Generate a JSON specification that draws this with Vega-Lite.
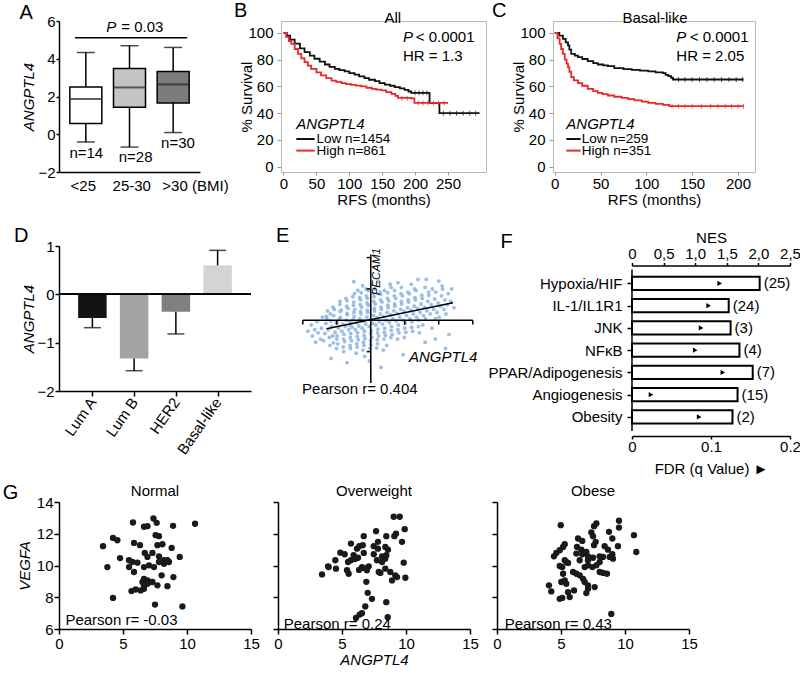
{
"$schema": "https://vega.github.io/schema/vega-lite/v6.json",
"background": "white",
"padding": {"left": 2, "top": 0, "right": 2, "bottom": 2},
"config": {
  "font": "Liberation Sans",
  "view": {"stroke": null},
  "axis": {"labelFont": "Liberation Sans", "titleFont": "Liberation Sans", "labelFontSize": 15, "titleFontSize": 15, "titleFontWeight": "normal", "labelColor": "black", "titleColor": "black", "domainColor": "black", "tickColor": "black", "domainWidth": 1.5, "tickWidth": 1.5, "tickSize": 5, "grid": false, "labelPadding": 2, "titlePadding": 4, "labelOverlap": false},
  "title": {"font": "Liberation Sans", "fontSize": 15, "fontWeight": "normal", "color": "black"},
  "text": {"font": "Liberation Sans", "fontSize": 15, "color": "black"}
},
"datasets": {
  "kmB": [
    {"g":"Low","t":0,"s":100},{"g":"Low","t":5,"s":98},{"g":"Low","t":10,"s":95},{"g":"Low","t":17,"s":92},{"g":"Low","t":25,"s":88.5},{"g":"Low","t":32,"s":85.7},{"g":"Low","t":40,"s":83},{"g":"Low","t":47,"s":80.7},{"g":"Low","t":55,"s":78.5},{"g":"Low","t":63,"s":76.4},{"g":"Low","t":70,"s":74.7},{"g":"Low","t":78,"s":73.2},{"g":"Low","t":85,"s":72.2},{"g":"Low","t":93,"s":71.2},{"g":"Low","t":100,"s":70},{"g":"Low","t":108,"s":68.9},{"g":"Low","t":115,"s":67.5},{"g":"Low","t":123,"s":66.2},{"g":"Low","t":130,"s":65},{"g":"Low","t":139,"s":64},{"g":"Low","t":146,"s":62.5},{"g":"Low","t":154,"s":61.4},{"g":"Low","t":162,"s":60.5},{"g":"Low","t":169,"s":59.5},{"g":"Low","t":177,"s":58.5},{"g":"Low","t":184,"s":57.5},{"g":"Low","t":190,"s":56.2},{"g":"Low","t":194,"s":55.2},{"g":"Low","t":222,"s":47.7},{"g":"Low","t":237,"s":40},{"g":"Low","t":298,"s":40},
    {"g":"High","t":0,"s":100},{"g":"High","t":4,"s":97},{"g":"High","t":8,"s":94},{"g":"High","t":12,"s":91.9},{"g":"High","t":17,"s":88},{"g":"High","t":22,"s":84.4},{"g":"High","t":27,"s":81},{"g":"High","t":32,"s":78.2},{"g":"High","t":37,"s":75.5},{"g":"High","t":42,"s":73.2},{"g":"High","t":50,"s":70.5},{"g":"High","t":57,"s":68.2},{"g":"High","t":65,"s":66.2},{"g":"High","t":73,"s":64.4},{"g":"High","t":80,"s":63.4},{"g":"High","t":88,"s":62.5},{"g":"High","t":95,"s":61.8},{"g":"High","t":103,"s":61.2},{"g":"High","t":110,"s":60.6},{"g":"High","t":118,"s":60},{"g":"High","t":126,"s":59},{"g":"High","t":134,"s":58.2},{"g":"High","t":141,"s":57.6},{"g":"High","t":149,"s":57},{"g":"High","t":156,"s":55.8},{"g":"High","t":164,"s":54.5},{"g":"High","t":170,"s":53},{"g":"High","t":174,"s":51.5},{"g":"High","t":194,"s":51},{"g":"High","t":199,"s":47.7},{"g":"High","t":250,"s":47.7}
  ],
  "cenB": [
    {"g":"Low","t":200,"s":55.2},{"g":"Low","t":206,"s":55.2},{"g":"Low","t":212,"s":55.2},{"g":"Low","t":218,"s":55.2},{"g":"Low","t":243,"s":40},{"g":"Low","t":253,"s":40},{"g":"Low","t":263,"s":40},{"g":"Low","t":273,"s":40},{"g":"Low","t":283,"s":40},{"g":"Low","t":292,"s":40},
    {"g":"High","t":180,"s":51},{"g":"High","t":188,"s":51},{"g":"High","t":205,"s":47.7},{"g":"High","t":212,"s":47.7},{"g":"High","t":220,"s":47.7},{"g":"High","t":228,"s":47.7},{"g":"High","t":236,"s":47.7},{"g":"High","t":244,"s":47.7}
  ],
  "kmC": [
    {"g":"Low","t":0,"s":100},{"g":"Low","t":5,"s":98},{"g":"Low","t":9,"s":95.6},{"g":"Low","t":12,"s":93},{"g":"Low","t":14.5,"s":90.7},{"g":"Low","t":16,"s":87.5},{"g":"Low","t":18,"s":84.4},{"g":"Low","t":22,"s":83},{"g":"Low","t":25.4,"s":81.9},{"g":"Low","t":30,"s":80.5},{"g":"Low","t":36,"s":78.9},{"g":"Low","t":42,"s":77.5},{"g":"Low","t":47,"s":76.4},{"g":"Low","t":53,"s":75.8},{"g":"Low","t":58,"s":75.2},{"g":"Low","t":65,"s":73.7},{"g":"Low","t":75,"s":73},{"g":"Low","t":84,"s":72.4},{"g":"Low","t":93,"s":71.8},{"g":"Low","t":102,"s":71.2},{"g":"Low","t":110,"s":70.5},{"g":"Low","t":118,"s":69.9},{"g":"Low","t":121,"s":68.7},{"g":"Low","t":124,"s":67.7},{"g":"Low","t":127,"s":66.5},{"g":"Low","t":129,"s":65.2},{"g":"Low","t":206,"s":65.2},
    {"g":"High","t":0,"s":100},{"g":"High","t":3,"s":96},{"g":"High","t":5.4,"s":91.9},{"g":"High","t":7,"s":88},{"g":"High","t":9,"s":84.4},{"g":"High","t":11,"s":80},{"g":"High","t":13,"s":77},{"g":"High","t":14.5,"s":74.5},{"g":"High","t":16,"s":71},{"g":"High","t":18,"s":66.9},{"g":"High","t":21,"s":64.5},{"g":"High","t":25.4,"s":62.5},{"g":"High","t":30,"s":60.5},{"g":"High","t":36,"s":58.2},{"g":"High","t":42,"s":56.5},{"g":"High","t":47,"s":55.2},{"g":"High","t":52,"s":54.2},{"g":"High","t":58,"s":53.2},{"g":"High","t":65,"s":52.3},{"g":"High","t":73,"s":51.5},{"g":"High","t":80,"s":50.5},{"g":"High","t":87,"s":49.5},{"g":"High","t":95,"s":48.6},{"g":"High","t":102,"s":47.7},{"g":"High","t":110,"s":47},{"g":"High","t":118,"s":46.2},{"g":"High","t":125,"s":45.2},{"g":"High","t":206,"s":45.2}
  ],
  "cenC": [
    {"g":"Low","t":135,"s":65.2},{"g":"Low","t":142,"s":65.2},{"g":"Low","t":150,"s":65.2},{"g":"Low","t":158,"s":65.2},{"g":"Low","t":166,"s":65.2},{"g":"Low","t":174,"s":65.2},{"g":"Low","t":182,"s":65.2},{"g":"Low","t":190,"s":65.2},{"g":"Low","t":198,"s":65.2},{"g":"Low","t":205,"s":65.2},
    {"g":"High","t":128,"s":45.2},{"g":"High","t":135,"s":45.2},{"g":"High","t":142,"s":45.2},{"g":"High","t":150,"s":45.2},{"g":"High","t":160,"s":45.2},{"g":"High","t":170,"s":45.2},{"g":"High","t":178,"s":45.2},{"g":"High","t":186,"s":45.2},{"g":"High","t":193,"s":45.2},{"g":"High","t":200,"s":45.2},{"g":"High","t":206,"s":45.2}
  ],
  "cloud": [
    {"x":-1.35,"y":-0.42},{"x":-1.32,"y":-0.1},{"x":-1.39,"y":-0.65},{"x":-1.3,"y":0.12},
    {"x":-1.25,"y":-0.3},{"x":-1.22,"y":-0.55},{"x":-1.29,"y":0.05},{"x":-1.2,"y":-0.8},{"x":-1.27,"y":0.3},
    {"x":-1.15,"y":-0.2},{"x":-1.12,"y":-0.5},{"x":-1.19,"y":0.2},{"x":-1.1,"y":-0.72},{"x":-1.17,"y":-0.02},{"x":-1.11,"y":0.42},
    {"x":-1.05,"y":-0.38},{"x":-1.02,"y":-0.08},{"x":-1.09,"y":0.15},{"x":-1.0,"y":-0.6},{"x":-1.07,"y":0.35},{"x":-1.01,"y":-0.9},
    {"x":-0.95,"y":-0.25},{"x":-0.92,"y":0.05},{"x":-0.99,"y":-0.5},{"x":-0.9,"y":0.28},{"x":-0.97,"y":-0.75},{"x":-0.91,"y":0.5},{"x":-1.0,"y":-0.1},
    {"x":-0.85,"y":-0.35},{"x":-0.82,"y":-0.12},{"x":-0.89,"y":0.1},{"x":-0.8,"y":-0.6},{"x":-0.87,"y":0.32},{"x":-0.81,"y":-0.85},{"x":-0.9,"y":0.6},
    {"x":-0.75,"y":-0.2},{"x":-0.72,"y":0.0},{"x":-0.79,"y":-0.45},{"x":-0.7,"y":0.22},{"x":-0.77,"y":-0.68},{"x":-0.71,"y":0.45},{"x":-0.8,"y":-1.0},{"x":-0.73,"y":0.7},
    {"x":-0.65,"y":-0.3},{"x":-0.62,"y":-0.05},{"x":-0.69,"y":0.18},{"x":-0.6,"y":-0.55},{"x":-0.67,"y":0.38},{"x":-0.61,"y":-0.8},{"x":-0.7,"y":0.62},{"x":-0.63,"y":-0.15},
    {"x":-0.55,"y":-0.22},{"x":-0.52,"y":0.02},{"x":-0.59,"y":-0.42},{"x":-0.5,"y":0.25},{"x":-0.57,"y":-0.65},{"x":-0.51,"y":0.48},{"x":-0.6,"y":-0.9},{"x":-0.53,"y":0.75},{"x":-0.58,"y":-0.1},
    {"x":-0.45,"y":-0.3},{"x":-0.42,"y":-0.08},{"x":-0.49,"y":0.12},{"x":-0.4,"y":-0.52},{"x":-0.47,"y":0.35},{"x":-0.41,"y":-0.75},{"x":-0.5,"y":0.58},{"x":-0.43,"y":-1.05},{"x":-0.48,"y":0.85},
    {"x":-0.35,"y":-0.18},{"x":-0.32,"y":0.05},{"x":-0.39,"y":-0.4},{"x":-0.3,"y":0.28},{"x":-0.37,"y":-0.62},{"x":-0.31,"y":0.5},{"x":-0.4,"y":-0.85},{"x":-0.33,"y":0.72},{"x":-0.38,"y":0.95},
    {"x":-0.25,"y":-0.25},{"x":-0.22,"y":-0.02},{"x":-0.29,"y":0.2},{"x":-0.2,"y":-0.48},{"x":-0.27,"y":0.42},{"x":-0.21,"y":-0.7},{"x":-0.3,"y":0.65},{"x":-0.23,"y":-0.95},{"x":-0.28,"y":0.88},{"x":-0.24,"y":1.1},
    {"x":-0.15,"y":-0.12},{"x":-0.12,"y":0.1},{"x":-0.19,"y":-0.35},{"x":-0.1,"y":0.32},{"x":-0.17,"y":-0.58},{"x":-0.11,"y":0.55},{"x":-0.2,"y":-0.8},{"x":-0.13,"y":0.78},{"x":-0.18,"y":-1.15},{"x":-0.14,"y":1.0},
    {"x":-0.05,"y":-0.2},{"x":-0.02,"y":0.02},{"x":-0.09,"y":0.25},{"x":0.0,"y":-0.42},{"x":-0.07,"y":0.48},{"x":-0.01,"y":-0.65},{"x":-0.1,"y":0.7},{"x":-0.03,"y":-0.9},{"x":-0.08,"y":0.95},{"x":-0.04,"y":-1.3},
    {"x":0.05,"y":-0.1},{"x":0.08,"y":0.15},{"x":0.01,"y":-0.32},{"x":0.1,"y":0.38},{"x":0.03,"y":-0.55},{"x":0.09,"y":0.6},{"x":0.0,"y":-0.78},{"x":0.07,"y":0.85},{"x":0.02,"y":1.15},
    {"x":0.15,"y":-0.15},{"x":0.18,"y":0.08},{"x":0.11,"y":0.3},{"x":0.2,"y":-0.4},{"x":0.13,"y":0.52},{"x":0.19,"y":-0.62},{"x":0.1,"y":0.75},{"x":0.17,"y":-0.88},{"x":0.12,"y":1.0},
    {"x":0.25,"y":-0.05},{"x":0.28,"y":0.2},{"x":0.21,"y":-0.28},{"x":0.3,"y":0.42},{"x":0.23,"y":-0.5},{"x":0.29,"y":0.65},{"x":0.2,"y":-0.75},{"x":0.27,"y":0.9},{"x":0.22,"y":1.25},
    {"x":0.35,"y":-0.12},{"x":0.38,"y":0.12},{"x":0.31,"y":0.35},{"x":0.4,"y":-0.38},{"x":0.33,"y":0.58},{"x":0.39,"y":-0.6},{"x":0.3,"y":0.82},{"x":0.37,"y":-0.95},
    {"x":0.45,"y":0.0},{"x":0.48,"y":0.25},{"x":0.41,"y":-0.25},{"x":0.5,"y":0.48},{"x":0.43,"y":-0.48},{"x":0.49,"y":0.7},{"x":0.4,"y":0.95},{"x":0.47,"y":-0.8},
    {"x":0.55,"y":-0.08},{"x":0.58,"y":0.18},{"x":0.51,"y":0.4},{"x":0.6,"y":-0.32},{"x":0.53,"y":0.62},{"x":0.59,"y":-0.55},{"x":0.5,"y":0.88},{"x":0.57,"y":1.15},
    {"x":0.65,"y":0.05},{"x":0.68,"y":0.3},{"x":0.61,"y":-0.2},{"x":0.7,"y":0.52},{"x":0.63,"y":-0.45},{"x":0.69,"y":0.78},{"x":0.6,"y":1.05},
    {"x":0.75,"y":-0.02},{"x":0.78,"y":0.22},{"x":0.71,"y":0.45},{"x":0.8,"y":-0.3},{"x":0.73,"y":0.7},{"x":0.79,"y":-0.6},{"x":0.7,"y":0.95},
    {"x":0.85,"y":0.1},{"x":0.88,"y":0.35},{"x":0.81,"y":-0.15},{"x":0.9,"y":0.6},{"x":0.83,"y":-0.4},{"x":0.89,"y":0.85},{"x":0.8,"y":1.2},
    {"x":0.95,"y":0.0},{"x":0.98,"y":0.28},{"x":0.91,"y":0.52},{"x":1.0,"y":-0.25},{"x":0.93,"y":0.78},{"x":0.99,"y":-0.55},{"x":0.9,"y":1.05},
    {"x":1.05,"y":0.15},{"x":1.08,"y":0.4},{"x":1.01,"y":-0.1},{"x":1.1,"y":0.65},{"x":1.03,"y":-0.38},{"x":1.09,"y":0.9},
    {"x":1.15,"y":0.05},{"x":1.18,"y":0.32},{"x":1.11,"y":0.58},{"x":1.2,"y":-0.22},{"x":1.13,"y":0.85},{"x":1.19,"y":1.15},
    {"x":1.25,"y":0.2},{"x":1.28,"y":0.45},{"x":1.21,"y":-0.05},{"x":1.3,"y":0.72},{"x":1.23,"y":-0.35},{"x":1.29,"y":1.0},
    {"x":1.35,"y":0.1},{"x":1.38,"y":0.38},{"x":1.31,"y":0.65},{"x":1.4,"y":-0.2},{"x":1.33,"y":0.95},{"x":1.39,"y":1.3},
    {"x":1.45,"y":0.25},{"x":1.48,"y":0.52},{"x":1.41,"y":0.0},{"x":1.5,"y":0.8},{"x":1.43,"y":-0.4},
    {"x":1.55,"y":0.15},{"x":1.58,"y":0.42},{"x":1.51,"y":0.7},{"x":1.6,"y":1.05},{"x":1.53,"y":-0.15},
    {"x":1.65,"y":0.3},{"x":1.68,"y":0.6},{"x":1.61,"y":0.05},{"x":1.7,"y":0.9},{"x":1.63,"y":1.3},
    {"x":1.75,"y":0.2},{"x":1.78,"y":0.5},{"x":1.71,"y":0.8},{"x":1.8,"y":-0.25},
    {"x":1.85,"y":0.35},{"x":1.88,"y":0.68},{"x":1.81,"y":1.0},{"x":1.9,"y":0.05},
    {"x":1.95,"y":0.25},{"x":1.98,"y":0.55},{"x":1.91,"y":0.9},{"x":2.0,"y":1.25},
    {"x":2.05,"y":0.45},{"x":2.08,"y":0.78},{"x":2.01,"y":0.1},{"x":2.1,"y":1.1},
    {"x":2.15,"y":0.35},{"x":2.18,"y":0.65},{"x":2.11,"y":1.0},
    {"x":2.25,"y":0.5},{"x":2.28,"y":0.85},{"x":2.21,"y":0.2},
    {"x":2.35,"y":0.6},{"x":2.38,"y":1.0},{"x":2.45,"y":0.4},
    {"x":-1.45,"y":-0.25},{"x":-1.48,"y":-0.6},{"x":-1.42,"y":0.1},{"x":-1.55,"y":-0.4},{"x":-1.58,"y":-0.05},{"x":-1.65,"y":-0.3},{"x":-1.62,"y":-0.7},{"x":-1.75,"y":-0.15},{"x":-1.72,"y":-0.5},{"x":-1.85,"y":-0.35},
    {"x":-0.5,"y":1.23},{"x":-1.17,"y":-1.22},{"x":0.95,"y":-1.1},{"x":1.6,"y":-0.7},{"x":2.3,"y":-0.45},{"x":0.3,"y":-1.5},{"x":-0.7,"y":-1.35},{"x":1.9,"y":-0.6},{"x":2.2,"y":-0.9}
  ],
  "gN": [
    {"x":7.38,"y":12.96},{"x":7.63,"y":12.69},{"x":5.78,"y":12.71},{"x":6.64,"y":12.44},{"x":6.91,"y":12.48},{"x":8.91,"y":12.5},{"x":10.63,"y":12.63},{"x":4.22,"y":11.74},{"x":4.56,"y":11.59},{"x":7.55,"y":11.91},{"x":7.81,"y":11.85},{"x":5.86,"y":11.42},{"x":6.33,"y":11.28},{"x":7.69,"y":11.28},{"x":8.08,"y":11.34},{"x":8.8,"y":11.11},{"x":3.44,"y":11.22},{"x":7.3,"y":10.79},{"x":6.7,"y":10.79},{"x":4.77,"y":10.47},{"x":5.47,"y":10.33},{"x":5.73,"y":10.22},{"x":6.13,"y":10.18},{"x":6.91,"y":10.54},{"x":7.81,"y":10.58},{"x":8.2,"y":10.33},{"x":8.47,"y":10.33},{"x":9.43,"y":10.54},{"x":7.81,"y":10.22},{"x":3.78,"y":9.9},{"x":5.47,"y":9.9},{"x":5.86,"y":9.59},{"x":6.64,"y":9.9},{"x":7.03,"y":10.01},{"x":7.42,"y":9.9},{"x":8.2,"y":10.11},{"x":8.59,"y":10.22},{"x":8.94,"y":9.27},{"x":8.02,"y":9.38},{"x":6.64,"y":9.16},{"x":6.91,"y":9.06},{"x":6.52,"y":8.96},{"x":7.03,"y":8.96},{"x":6.64,"y":8.75},{"x":6.91,"y":8.85},{"x":7.3,"y":8.96},{"x":8.47,"y":8.7},{"x":7.69,"y":8.75},{"x":6.64,"y":8.53},{"x":6.38,"y":8.43},{"x":5.66,"y":8.39},{"x":5.99,"y":8.49},{"x":4.22,"y":7.96},{"x":7.5,"y":7.54},{"x":9.64,"y":7.42}
  ],
  "gO": [
    {"x":9.04,"y":13.07},{"x":9.51,"y":13.07},{"x":9.9,"y":12.29},{"x":9.22,"y":12.01},{"x":9.09,"y":11.85},{"x":7.66,"y":12.16},{"x":8.46,"y":11.85},{"x":6.7,"y":11.85},{"x":9.69,"y":11.49},{"x":5.7,"y":11.38},{"x":6.35,"y":11.22},{"x":6.62,"y":11.28},{"x":6.17,"y":11.06},{"x":7.81,"y":11.49},{"x":7.48,"y":11.22},{"x":7.81,"y":11.06},{"x":8.38,"y":11.17},{"x":8.59,"y":11.0},{"x":4.87,"y":10.81},{"x":5.21,"y":10.71},{"x":6.7,"y":10.79},{"x":5.91,"y":10.65},{"x":6.25,"y":10.49},{"x":5.7,"y":10.33},{"x":5.47,"y":10.22},{"x":7.48,"y":10.71},{"x":8.13,"y":10.58},{"x":8.46,"y":10.65},{"x":9.82,"y":10.18},{"x":4.48,"y":10.33},{"x":3.91,"y":9.95},{"x":3.44,"y":9.44},{"x":3.96,"y":9.9},{"x":4.53,"y":9.8},{"x":5.39,"y":9.7},{"x":5.52,"y":9.48},{"x":6.02,"y":10.41},{"x":6.56,"y":9.9},{"x":6.33,"y":9.72},{"x":6.72,"y":9.84},{"x":7.09,"y":9.95},{"x":6.95,"y":9.7},{"x":6.9,"y":8.97},{"x":7.01,"y":8.28},{"x":7.34,"y":7.9},{"x":6.82,"y":7.42},{"x":6.56,"y":6.99},{"x":6.38,"y":6.91},{"x":6.09,"y":6.7},{"x":7.73,"y":10.33},{"x":8.13,"y":10.22},{"x":8.38,"y":10.43},{"x":7.87,"y":9.59},{"x":8.0,"y":9.53},{"x":8.38,"y":9.8},{"x":8.77,"y":9.59},{"x":8.91,"y":9.06},{"x":8.46,"y":7.69},{"x":8.57,"y":6.74},{"x":9.16,"y":9.38},{"x":9.3,"y":9.27},{"x":9.95,"y":9.23}
  ],
  "gB": [
    {"x":4.98,"y":12.54},{"x":7.58,"y":12.48},{"x":7.76,"y":12.65},{"x":9.53,"y":12.82},{"x":9.53,"y":12.39},{"x":8.75,"y":12.12},{"x":7.37,"y":12.08},{"x":7.5,"y":11.85},{"x":10.7,"y":11.91},{"x":6.33,"y":11.7},{"x":6.66,"y":11.55},{"x":7.71,"y":11.49},{"x":7.58,"y":11.28},{"x":9.01,"y":11.7},{"x":9.45,"y":11.22},{"x":8.41,"y":11.22},{"x":8.67,"y":11.0},{"x":5.29,"y":11.34},{"x":5.16,"y":11.17},{"x":4.9,"y":10.96},{"x":4.63,"y":10.79},{"x":4.45,"y":10.58},{"x":6.25,"y":11.17},{"x":6.59,"y":11.0},{"x":6.98,"y":10.85},{"x":6.66,"y":10.71},{"x":7.11,"y":10.58},{"x":6.2,"y":10.75},{"x":7.5,"y":10.49},{"x":8.02,"y":10.58},{"x":9.01,"y":10.71},{"x":10.88,"y":10.85},{"x":5.29,"y":10.33},{"x":5.55,"y":10.16},{"x":4.9,"y":9.97},{"x":4.06,"y":8.75},{"x":4.24,"y":8.37},{"x":5.02,"y":8.96},{"x":5.29,"y":9.06},{"x":5.41,"y":8.85},{"x":4.9,"y":7.9},{"x":5.1,"y":7.96},{"x":5.55,"y":8.32},{"x":6.02,"y":8.43},{"x":5.68,"y":8.01},{"x":5.16,"y":9.48},{"x":5.1,"y":9.9},{"x":5.41,"y":10.22},{"x":5.94,"y":9.59},{"x":6.2,"y":9.48},{"x":6.46,"y":9.38},{"x":6.72,"y":9.16},{"x":6.85,"y":8.96},{"x":7.11,"y":8.75},{"x":7.11,"y":8.53},{"x":6.98,"y":8.26},{"x":7.63,"y":8.64},{"x":6.85,"y":9.9},{"x":7.11,"y":10.01},{"x":7.45,"y":9.9},{"x":7.76,"y":10.01},{"x":8.02,"y":9.59},{"x":8.28,"y":9.53},{"x":8.59,"y":9.48},{"x":9.06,"y":10.43},{"x":8.8,"y":10.54},{"x":8.28,"y":10.54},{"x":8.93,"y":6.95},{"x":7.11,"y":10.33},{"x":6.46,"y":10.33},{"x":8.02,"y":10.22}
  ]
},
"resolve": {"scale": {"color": "independent", "fill": "independent"}},
"vconcat": [
  {"vconcat": [
    {"hconcat": [
      {
        "width": 141, "height": 151,
        "data": {"values": [
          {"grp":"<25","pos":0.5,"lo":-0.41,"q1":0.57,"med":1.87,"q3":2.5,"hi":4.33,"n":"n=14","nx":0.51,"ny":-0.98},
          {"grp":"25-30","pos":1.5,"lo":-0.68,"q1":1.43,"med":2.48,"q3":3.48,"hi":4.69,"n":"n=28","nx":1.64,"ny":-1.19},
          {"grp":">30","pos":2.5,"lo":0.09,"q1":1.66,"med":2.64,"q3":3.33,"hi":4.6,"n":"n=30","nx":2.61,"ny":-0.48}
        ]},
        "layer": [
          {"mark": {"type": "rule", "color": "black", "strokeWidth": 1.5},
           "encoding": {
             "x": {"field": "pos", "type": "quantitative", "scale": {"domain": [0, 3], "nice": false, "zero": false},
                   "axis": {"values": [0.43, 1.54, 3.0], "tickCount": 20, "labelExpr": "datum.value < 1 ? '<25' : datum.value < 2 ? '25-30' : '>30 (BMI)'", "ticks": false, "labelFlush": false, "labelOverlap": false, "labelPadding": 6, "title": null}},
             "y": {"field": "lo", "type": "quantitative", "scale": {"domain": [-2, 6], "nice": false},
                   "axis": {"values": [-2, 0, 2, 4, 6], "tickCount": 20, "format": "d", "labelOverlap": false, "title": "ANGPTL4", "titleFontStyle": "italic", "tickSize": 3, "labelPadding": 1, "titlePadding": 1}},
             "y2": {"field": "hi"}}},
          {"mark": {"type": "bar", "size": 32, "stroke": "black", "strokeWidth": 1.5, "orient": "vertical"},
           "encoding": {
             "x": {"field": "pos", "type": "quantitative"},
             "y": {"field": "q1", "type": "quantitative"}, "y2": {"field": "q3"},
             "fill": {"field": "grp", "type": "nominal", "scale": {"domain": ["<25", "25-30", ">30"], "range": ["#ffffff", "#c4c4c4", "#7c7c7c"]}, "legend": null}}},
          {"mark": {"type": "tick", "orient": "horizontal", "size": 31, "thickness": 2, "color": "#222222"},
           "encoding": {"x": {"field": "pos", "type": "quantitative"}, "y": {"field": "med", "type": "quantitative"}}},
          {"mark": {"type": "tick", "orient": "horizontal", "size": 18, "thickness": 1.5, "color": "black"},
           "encoding": {"x": {"field": "pos", "type": "quantitative"}, "y": {"field": "lo", "type": "quantitative"}}},
          {"mark": {"type": "tick", "orient": "horizontal", "size": 18, "thickness": 1.5, "color": "black"},
           "encoding": {"x": {"field": "pos", "type": "quantitative"}, "y": {"field": "hi", "type": "quantitative"}}},
          {"mark": {"type": "text", "fontSize": 15, "baseline": "middle"},
           "encoding": {"x": {"field": "nx", "type": "quantitative"}, "y": {"field": "ny", "type": "quantitative"}, "text": {"field": "n"}}},
          {"data": {"values": [{"a": 0.25, "b": 2.82, "y": 5.11}]},
           "mark": {"type": "rule", "color": "black", "strokeWidth": 1.5},
           "encoding": {"x": {"field": "a", "type": "quantitative"}, "x2": {"field": "b"}, "y": {"field": "y", "type": "quantitative"}}},
          {"data": {"values": [{"x": 0.97, "y": 5.68, "t": "P"}]},
           "mark": {"type": "text", "align": "left", "baseline": "middle", "fontSize": 15, "fontStyle": "italic"},
           "encoding": {"x": {"field": "x", "type": "quantitative"}, "y": {"field": "y", "type": "quantitative"}, "text": {"field": "t"}}},
          {"data": {"values": [{"x": 1.31, "y": 5.68, "t": "= 0.03"}]},
           "mark": {"type": "text", "align": "left", "baseline": "middle", "fontSize": 15},
           "encoding": {"x": {"field": "x", "type": "quantitative"}, "y": {"field": "y", "type": "quantitative"}, "text": {"field": "t"}}},
          {"data": {"values": [{"x": -1.02, "y": 6.45, "t": "A"}]},
           "mark": {"type": "text", "align": "left", "baseline": "middle", "fontSize": 20},
           "encoding": {"x": {"field": "x", "type": "quantitative"}, "y": {"field": "y", "type": "quantitative"}, "text": {"field": "t"}}}
        ]
      },
      {
        "width": 205, "height": 151,
        "view": {"stroke": "#b8b8b8"},
        "layer": [
          {"data": {"name": "kmB"}, "mark": {"type": "line", "interpolate": "step-after", "strokeWidth": 1.8},
           "encoding": {
             "x": {"field": "t", "type": "quantitative", "scale": {"domain": [-3.8, 307.8], "nice": false, "zero": false},
                   "axis": {"values": [0, 50, 100, 150, 200, 250], "tickCount": 20, "format": "d", "labelOverlap": false, "domain": false, "tickColor": "#999999", "tickSize": 3, "tickWidth": 1, "labelPadding": 1, "labelFlush": false, "title": "RFS (months)", "titlePadding": 1}},
             "y": {"field": "s", "type": "quantitative", "scale": {"domain": [-4, 108.94], "nice": false, "zero": false},
                   "axis": {"values": [0, 20, 40, 60, 80, 100], "tickCount": 20, "format": "d", "labelOverlap": false, "domain": false, "tickColor": "#999999", "tickSize": 4, "tickWidth": 1, "labelPadding": 4, "title": "% Survival", "titlePadding": -7}},
             "color": {"field": "g", "type": "nominal", "scale": {"domain": ["Low", "High"], "range": ["#111111", "#e8282b"]}, "legend": null}}},
          {"data": {"name": "cenB"}, "mark": {"type": "tick", "orient": "vertical", "size": 5, "thickness": 1},
           "encoding": {"x": {"field": "t", "type": "quantitative"}, "y": {"field": "s", "type": "quantitative"}, "color": {"field": "g", "type": "nominal", "legend": null}}},
          {"data": {"values": [{"g": "Low", "a": 19.5, "b": 47.4, "y": 20.7}, {"g": "High", "a": 19.5, "b": 47.4, "y": 12}]},
           "mark": {"type": "rule", "strokeWidth": 2},
           "encoding": {"x": {"field": "a", "type": "quantitative"}, "x2": {"field": "b"}, "y": {"field": "y", "type": "quantitative"}, "color": {"field": "g", "type": "nominal", "legend": null}}},
          {"data": {"values": [{"x": 50, "y": 20.7, "t": "Low n=1454"}, {"x": 50, "y": 12, "t": "High n=861"}]},
           "mark": {"type": "text", "align": "left", "baseline": "middle", "fontSize": 13.5},
           "encoding": {"x": {"field": "x", "type": "quantitative"}, "y": {"field": "y", "type": "quantitative"}, "text": {"field": "t"}}},
          {"data": {"values": [{"x": 19.5, "y": 32, "t": "ANGPTL4"}, {"x": 181.6, "y": 96.9, "t": "P"}]},
           "mark": {"type": "text", "align": "left", "baseline": "middle", "fontSize": 15, "fontStyle": "italic"},
           "encoding": {"x": {"field": "x", "type": "quantitative"}, "y": {"field": "y", "type": "quantitative"}, "text": {"field": "t"}}},
          {"data": {"values": [{"x": 201, "y": 96.9, "t": "< 0.0001"}, {"x": 181.6, "y": 83.1, "t": "HR = 1.3"}]},
           "mark": {"type": "text", "align": "left", "baseline": "middle", "fontSize": 15},
           "encoding": {"x": {"field": "x", "type": "quantitative"}, "y": {"field": "y", "type": "quantitative"}, "text": {"field": "t"}}},
          {"data": {"values": [{"x": 166, "y": 111.2, "t": "All"}]},
           "mark": {"type": "text", "align": "center", "baseline": "middle", "fontSize": 15},
           "encoding": {"x": {"field": "x", "type": "quantitative"}, "y": {"field": "y", "type": "quantitative"}, "text": {"field": "t"}}},
          {"data": {"values": [{"x": -75.2, "y": 116.4, "t": "B"}]},
           "mark": {"type": "text", "align": "left", "baseline": "middle", "fontSize": 20},
           "encoding": {"x": {"field": "x", "type": "quantitative"}, "y": {"field": "y", "type": "quantitative"}, "text": {"field": "t"}}}
        ]
      },
      {
        "width": 202, "height": 151,
        "view": {"stroke": "#b8b8b8"},
        "layer": [
          {"data": {"name": "kmC"}, "mark": {"type": "line", "interpolate": "step-after", "strokeWidth": 1.8},
           "encoding": {
             "x": {"field": "t", "type": "quantitative", "scale": {"domain": [-1.85, 218.5], "nice": false, "zero": false},
                   "axis": {"values": [0, 50, 100, 150, 200], "tickCount": 20, "format": "d", "labelOverlap": false, "domain": false, "tickColor": "#999999", "tickSize": 3, "tickWidth": 1, "labelPadding": 1, "labelFlush": false, "title": "RFS (months)", "titlePadding": 1}},
             "y": {"field": "s", "type": "quantitative", "scale": {"domain": [-4, 108.94], "nice": false, "zero": false},
                   "axis": {"values": [0, 20, 40, 60, 80, 100], "tickCount": 20, "format": "d", "labelOverlap": false, "domain": false, "tickColor": "#999999", "tickSize": 4, "tickWidth": 1, "labelPadding": 4, "title": "% Survival", "titlePadding": -7}},
             "color": {"field": "g", "type": "nominal", "scale": {"domain": ["Low", "High"], "range": ["#111111", "#e8282b"]}, "legend": null}}},
          {"data": {"name": "cenC"}, "mark": {"type": "tick", "orient": "vertical", "size": 5, "thickness": 1},
           "encoding": {"x": {"field": "t", "type": "quantitative"}, "y": {"field": "s", "type": "quantitative"}, "color": {"field": "g", "type": "nominal", "legend": null}}},
          {"data": {"values": [{"g": "Low", "a": 12.7, "b": 28.3, "y": 20.7}, {"g": "High", "a": 12.7, "b": 28.3, "y": 12}]},
           "mark": {"type": "rule", "strokeWidth": 2},
           "encoding": {"x": {"field": "a", "type": "quantitative"}, "x2": {"field": "b"}, "y": {"field": "y", "type": "quantitative"}, "color": {"field": "g", "type": "nominal", "legend": null}}},
          {"data": {"values": [{"x": 29.5, "y": 20.7, "t": "Low n=259"}, {"x": 29.5, "y": 12, "t": "High n=351"}]},
           "mark": {"type": "text", "align": "left", "baseline": "middle", "fontSize": 13.5},
           "encoding": {"x": {"field": "x", "type": "quantitative"}, "y": {"field": "y", "type": "quantitative"}, "text": {"field": "t"}}},
          {"data": {"values": [{"x": 12.7, "y": 32, "t": "ANGPTL4"}, {"x": 132.7, "y": 96.9, "t": "P"}]},
           "mark": {"type": "text", "align": "left", "baseline": "middle", "fontSize": 15, "fontStyle": "italic"},
           "encoding": {"x": {"field": "x", "type": "quantitative"}, "y": {"field": "y", "type": "quantitative"}, "text": {"field": "t"}}},
          {"data": {"values": [{"x": 147.3, "y": 96.9, "t": "< 0.0001"}, {"x": 132.7, "y": 83.1, "t": "HR = 2.05"}]},
           "mark": {"type": "text", "align": "left", "baseline": "middle", "fontSize": 15},
           "encoding": {"x": {"field": "x", "type": "quantitative"}, "y": {"field": "y", "type": "quantitative"}, "text": {"field": "t"}}},
          {"data": {"values": [{"x": 109.4, "y": 111.2, "t": "Basal-like"}]},
           "mark": {"type": "text", "align": "center", "baseline": "middle", "fontSize": 15},
           "encoding": {"x": {"field": "x", "type": "quantitative"}, "y": {"field": "y", "type": "quantitative"}, "text": {"field": "t"}}},
          {"data": {"values": [{"x": -68.4, "y": 116.4, "t": "C"}]},
           "mark": {"type": "text", "align": "left", "baseline": "middle", "fontSize": 20},
           "encoding": {"x": {"field": "x", "type": "quantitative"}, "y": {"field": "y", "type": "quantitative"}, "text": {"field": "t"}}}
        ]
      }
    ], "spacing": 4, "resolve": {"scale": {"color": "independent", "fill": "independent"}}},
    {"hconcat": [
      {
        "width": 192, "height": 145,
        "view": {"fill": "white", "stroke": null},
        "data": {"values": [
          {"sub": "Lum A", "i": 1, "v": -0.49, "err": -0.69},
          {"sub": "Lum B", "i": 2, "v": -1.33, "err": -1.58},
          {"sub": "HER2", "i": 3, "v": -0.36, "err": -0.82},
          {"sub": "Basal-like", "i": 4, "v": 0.6, "err": 0.91}
        ]},
        "layer": [
          {"mark": {"type": "bar", "size": 28.5, "orient": "vertical"},
           "encoding": {
             "x": {"field": "i", "type": "quantitative", "scale": {"domain": [0.32, 4.68], "nice": false, "zero": false},
                   "axis": {"values": [1, 2, 3, 4], "tickCount": 20, "labelExpr": "['', 'Lum A', 'Lum B', 'HER2', 'Basal-like'][datum.value]", "labelOverlap": false, "labelAngle": -55, "labelAlign": "right", "labelBaseline": "middle", "labelFlush": false, "title": null, "tickSize": 5, "labelPadding": 3}},
             "y": {"field": "v", "type": "quantitative", "scale": {"domain": [-2, 1], "nice": false},
                   "axis": {"values": [-2, -1, 0, 1], "tickCount": 20, "format": "d", "labelOverlap": false, "title": "ANGPTL4", "titleFontStyle": "italic", "tickSize": 4, "labelPadding": 1, "titlePadding": 0}},
             "y2": {"datum": 0},
             "color": {"field": "sub", "type": "nominal", "scale": {"domain": ["Lum A", "Lum B", "HER2", "Basal-like"], "range": ["#121212", "#a3a3a6", "#808080", "#d4d4d4"]}, "legend": null}}},
          {"mark": {"type": "rule", "color": "black", "strokeWidth": 1.5},
           "encoding": {"x": {"field": "i", "type": "quantitative"}, "y": {"field": "v", "type": "quantitative"}, "y2": {"field": "err"}}},
          {"mark": {"type": "tick", "orient": "horizontal", "size": 17, "thickness": 1.5, "color": "black"},
           "encoding": {"x": {"field": "i", "type": "quantitative"}, "y": {"field": "err", "type": "quantitative"}}},
          {"mark": {"type": "rule", "color": "black", "strokeWidth": 1.5},
           "encoding": {"y": {"datum": 0}}},
          {"data": {"values": [{"x": -0.88, "y": 1.207, "t": "D"}]},
           "mark": {"type": "text", "align": "left", "baseline": "middle", "fontSize": 20},
           "encoding": {"x": {"field": "x", "type": "quantitative"}, "y": {"field": "y", "type": "quantitative"}, "text": {"field": "t"}}}
        ]
      },
      {
        "width": 215, "height": 137,
        "view": {"fill": "white", "stroke": null},
        "layer": [
          {"data": {"name": "cloud"}, "mark": {"type": "circle", "size": 15, "color": "#8ab4e4", "opacity": 0.85},
           "encoding": {
             "x": {"field": "x", "type": "quantitative", "scale": {"domain": [-3.2, 3.125], "nice": false, "zero": false}, "axis": null},
             "y": {"field": "y", "type": "quantitative", "scale": {"domain": [-2, 2.37], "nice": false, "zero": false}, "axis": null}}},
          {"data": {"values": [
             {"a": -2, "b": 3, "c": 0, "d": 0}, {"a": 0, "b": 0, "c": -2, "d": 2.1},
             {"a": -2, "b": -2, "c": 0, "d": -0.13}, {"a": -1, "b": -1, "c": 0, "d": -0.13}, {"a": 1, "b": 1, "c": 0, "d": -0.13}, {"a": 2, "b": 2, "c": 0, "d": -0.13}, {"a": 3, "b": 3, "c": 0, "d": -0.13},
             {"a": 0, "b": -0.12, "c": -1, "d": -1}, {"a": 0, "b": -0.12, "c": 1, "d": 1}, {"a": 0, "b": -0.12, "c": 2, "d": 2}
           ]},
           "mark": {"type": "rule", "color": "black", "strokeWidth": 1.5},
           "encoding": {"x": {"field": "a", "type": "quantitative"}, "x2": {"field": "b"}, "y": {"field": "c", "type": "quantitative"}, "y2": {"field": "d"}}},
          {"data": {"values": [{"a": -1.3, "b": 2.42, "c": -0.27, "d": 0.56}]},
           "mark": {"type": "rule", "color": "black", "strokeWidth": 1.5},
           "encoding": {"x": {"field": "a", "type": "quantitative"}, "x2": {"field": "b"}, "y": {"field": "c", "type": "quantitative"}, "y2": {"field": "d"}}},
          {"data": {"values": [{"x": 0.19, "y": 1.55, "t": "PECAM1"}]},
           "mark": {"type": "text", "align": "center", "baseline": "middle", "angle": 270, "fontSize": 11.5, "fontStyle": "italic"},
           "encoding": {"x": {"field": "x", "type": "quantitative"}, "y": {"field": "y", "type": "quantitative"}, "text": {"field": "t"}}},
          {"data": {"values": [{"x": 2.13, "y": -1.16, "t": "ANGPTL4"}]},
           "mark": {"type": "text", "align": "center", "baseline": "middle", "fontSize": 15, "fontStyle": "italic"},
           "encoding": {"x": {"field": "x", "type": "quantitative"}, "y": {"field": "y", "type": "quantitative"}, "text": {"field": "t"}}},
          {"data": {"values": [{"x": -2.02, "y": -2.18, "t": "Pearson r= 0.404"}]},
           "mark": {"type": "text", "align": "left", "baseline": "middle", "fontSize": 15},
           "encoding": {"x": {"field": "x", "type": "quantitative"}, "y": {"field": "y", "type": "quantitative"}, "text": {"field": "t"}}},
          {"data": {"values": [{"x": -2.79, "y": 2.69, "t": "E"}]},
           "mark": {"type": "text", "align": "left", "baseline": "middle", "fontSize": 20},
           "encoding": {"x": {"field": "x", "type": "quantitative"}, "y": {"field": "y", "type": "quantitative"}, "text": {"field": "t"}}}
        ]
      },
      {
        "width": 158, "height": 190,
        "view": {"fill": "white", "stroke": null},
        "data": {"values": [
          {"c": "Hypoxia/HIF", "i": 1, "nes": 2.02, "fdr": 0.111, "n": "(25)"},
          {"c": "IL-1/IL1R1", "i": 2, "nes": 1.53, "fdr": 0.097, "n": "(24)"},
          {"c": "JNK", "i": 3, "nes": 1.56, "fdr": 0.0875, "n": "(3)"},
          {"c": "NFκB", "i": 4, "nes": 1.70, "fdr": 0.080, "n": "(4)"},
          {"c": "PPAR/Adipogenesis", "i": 5, "nes": 1.91, "fdr": 0.115, "n": "(7)"},
          {"c": "Angiogenesis", "i": 6, "nes": 1.67, "fdr": 0.024, "n": "(15)"},
          {"c": "Obesity", "i": 7, "nes": 1.59, "fdr": 0.085, "n": "(2)"}
        ]},
        "layer": [
          {"layer": [
            {"mark": {"type": "bar", "orient": "horizontal", "size": 13.3, "fill": "white", "stroke": "black", "strokeWidth": 2},
             "encoding": {
               "y": {"field": "i", "type": "quantitative", "scale": {"domain": [-0.455, 7.63], "reverse": true, "nice": false, "zero": false},
                     "axis": {"values": [1, 2, 3, 4, 5, 6, 7], "tickCount": 20, "labelExpr": "['', 'Hypoxia/HIF', 'IL-1/IL1R1', 'JNK', 'NFκB', 'PPAR/Adipogenesis', 'Angiogenesis', 'Obesity'][datum.value]", "labelOverlap": false, "title": null, "tickSize": 5, "labelPadding": 5, "domain": false}},
               "x": {"field": "nes", "type": "quantitative", "scale": {"domain": [0, 2.5], "nice": false},
                     "axis": {"orient": "top", "offset": -19.5, "values": [0, 0.5, 1, 1.5, 2, 2.5], "tickCount": 20, "labelExpr": "datum.value == 0 ? '0' : replace(format(datum.value, '.1f'), '.', ',')", "labelOverlap": false, "labelFlush": false, "tickSize": 3, "labelPadding": 1, "title": "NES", "titlePadding": 1}}}},
            {"mark": {"type": "text", "align": "left", "baseline": "middle", "dx": 4, "fontSize": 15},
             "encoding": {"y": {"field": "i", "type": "quantitative"}, "x": {"field": "nes", "type": "quantitative"}, "text": {"field": "n"}}},
            {"data": {"values": [{"a": 0, "c": 0.374, "d": 7.63}]},
             "mark": {"type": "rule", "color": "black", "strokeWidth": 1.5},
             "encoding": {"x": {"field": "a", "type": "quantitative"}, "y": {"field": "c", "type": "quantitative"}, "y2": {"field": "d"}}},
            {"data": {"values": [{"x": -2.08, "y": -0.88, "t": "F"}]},
             "mark": {"type": "text", "align": "left", "baseline": "middle", "fontSize": 20},
             "encoding": {"x": {"field": "x", "type": "quantitative"}, "y": {"field": "y", "type": "quantitative"}, "text": {"field": "t"}}}
          ]},
          {"mark": {"type": "point", "shape": "triangle-right", "filled": true, "color": "black", "size": 28, "opacity": 1},
           "encoding": {
             "y": {"field": "i", "type": "quantitative"},
             "x": {"field": "fdr", "type": "quantitative", "scale": {"domain": [0, 0.2], "nice": false},
                   "axis": {"orient": "bottom", "values": [0, 0.1, 0.2], "tickCount": 20, "labelExpr": "datum.value == 0 ? '0' : format(datum.value, '.1f')", "labelOverlap": false, "labelFlush": false, "tickSize": 3, "labelPadding": 0, "title": "FDR (q Value)   ►", "titlePadding": 7}}}}
        ],
        "resolve": {"scale": {"x": "independent"}, "axis": {"x": "independent"}}
      }
    ], "spacing": 10, "resolve": {"scale": {"color": "independent", "fill": "independent"}}}
  ], "spacing": 17, "resolve": {"scale": {"color": "independent", "fill": "independent"}}},
  {"hconcat": [
    {
      "width": 192, "height": 127,
      "layer": [
        {"data": {"name": "gN"}, "mark": {"type": "circle", "size": 40, "color": "#1a1a1a", "opacity": 1},
         "encoding": {
           "x": {"field": "x", "type": "quantitative", "scale": {"domain": [0, 15], "nice": false}, "axis": {"values": [0, 5, 10, 15], "tickCount": 20, "format": "d", "labelOverlap": false, "title": null, "labelFlush": false}},
           "y": {"field": "y", "type": "quantitative", "scale": {"domain": [6, 14], "nice": false, "zero": false}, "axis": {"values": [6, 8, 10, 12, 14], "tickCount": 20, "format": "d", "labelOverlap": false, "title": "VEGFA", "titleFontStyle": "italic", "labelPadding": 1}}}},
        {"data": {"values": [{"x": 0.5, "y": 6.57, "t": "Pearson r= -0.03"}]},
         "mark": {"type": "text", "align": "left", "baseline": "middle", "fontSize": 15},
         "encoding": {"x": {"field": "x", "type": "quantitative"}, "y": {"field": "y", "type": "quantitative"}, "text": {"field": "t"}}},
        {"data": {"values": [{"x": 7.5, "y": 14.7, "t": "Normal"}]},
         "mark": {"type": "text", "align": "center", "baseline": "middle", "fontSize": 15},
         "encoding": {"x": {"field": "x", "type": "quantitative"}, "y": {"field": "y", "type": "quantitative"}, "text": {"field": "t"}}},
        {"data": {"values": [{"x": -4.4, "y": 14.57, "t": "G"}]},
         "mark": {"type": "text", "align": "left", "baseline": "middle", "fontSize": 20},
         "encoding": {"x": {"field": "x", "type": "quantitative"}, "y": {"field": "y", "type": "quantitative"}, "text": {"field": "t"}}}
      ]
    },
    {
      "width": 192, "height": 127,
      "layer": [
        {"data": {"name": "gO"}, "mark": {"type": "circle", "size": 40, "color": "#1a1a1a", "opacity": 1},
         "encoding": {
           "x": {"field": "x", "type": "quantitative", "scale": {"domain": [0, 15], "nice": false}, "axis": {"values": [0, 5, 10, 15], "tickCount": 20, "format": "d", "labelOverlap": false, "title": "ANGPTL4", "titleFontStyle": "italic", "labelFlush": false, "titlePadding": 1}},
           "y": {"field": "y", "type": "quantitative", "scale": {"domain": [6, 14], "nice": false, "zero": false}, "axis": {"values": [6, 8, 10, 12, 14], "tickCount": 20, "labels": false, "title": null}}}},
        {"data": {"values": [{"x": 0.45, "y": 6.3, "t": "Pearson r= 0.24"}]},
         "mark": {"type": "text", "align": "left", "baseline": "middle", "fontSize": 15},
         "encoding": {"x": {"field": "x", "type": "quantitative"}, "y": {"field": "y", "type": "quantitative"}, "text": {"field": "t"}}},
        {"data": {"values": [{"x": 7.5, "y": 14.7, "t": "Overweight"}]},
         "mark": {"type": "text", "align": "center", "baseline": "middle", "fontSize": 15},
         "encoding": {"x": {"field": "x", "type": "quantitative"}, "y": {"field": "y", "type": "quantitative"}, "text": {"field": "t"}}}
      ]
    },
    {
      "width": 192, "height": 127,
      "layer": [
        {"data": {"name": "gB"}, "mark": {"type": "circle", "size": 40, "color": "#1a1a1a", "opacity": 1},
         "encoding": {
           "x": {"field": "x", "type": "quantitative", "scale": {"domain": [0, 15], "nice": false}, "axis": {"values": [0, 5, 10, 15], "tickCount": 20, "format": "d", "labelOverlap": false, "title": null, "labelFlush": false}},
           "y": {"field": "y", "type": "quantitative", "scale": {"domain": [6, 14], "nice": false, "zero": false}, "axis": {"values": [6, 8, 10, 12, 14], "tickCount": 20, "labels": false, "title": null}}}},
        {"data": {"values": [{"x": 0.6, "y": 6.3, "t": "Pearson r= 0.43"}]},
         "mark": {"type": "text", "align": "left", "baseline": "middle", "fontSize": 15},
         "encoding": {"x": {"field": "x", "type": "quantitative"}, "y": {"field": "y", "type": "quantitative"}, "text": {"field": "t"}}},
        {"data": {"values": [{"x": 7.5, "y": 14.7, "t": "Obese"}]},
         "mark": {"type": "text", "align": "center", "baseline": "middle", "fontSize": 15},
         "encoding": {"x": {"field": "x", "type": "quantitative"}, "y": {"field": "y", "type": "quantitative"}, "text": {"field": "t"}}}
      ]
    }
  ], "spacing": 12}
],
"spacing": 6
}
